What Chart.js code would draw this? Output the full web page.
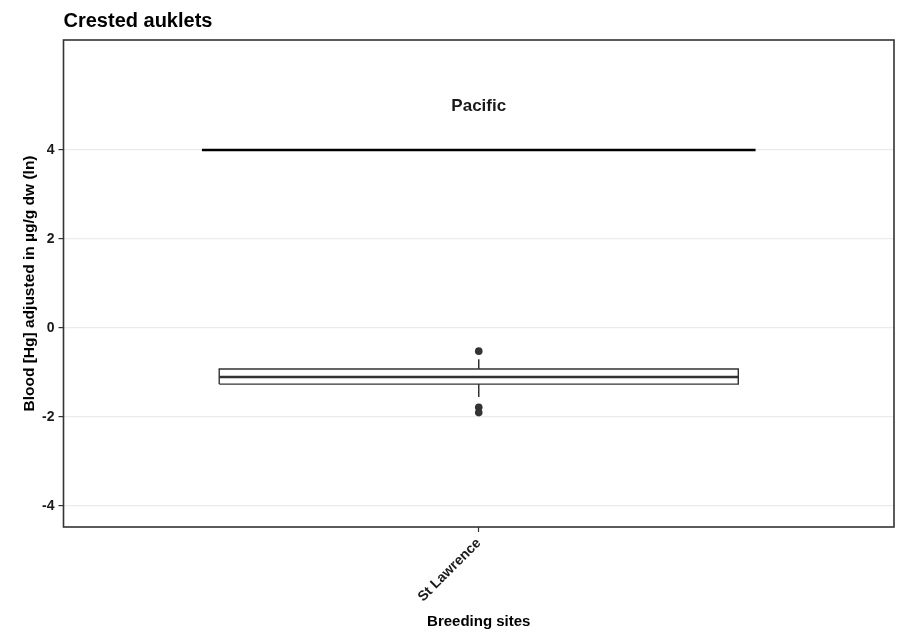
<!DOCTYPE html>
<html>
<head>
<meta charset="utf-8">
<script src="https://cdn.jsdelivr.net/npm/chart.js@4"></script>
<style>
  html, body { margin: 0; padding: 0; background: #ffffff; }
  #wrap { width: 901px; height: 633px; position: relative; }
</style>
</head>
<body>
<div id="wrap"><canvas id="c" width="901" height="633"></canvas></div>
<script>
// ---- data ----
const chartTitle = 'Crested auklets';
const categories = ['St Lawrence'];
const categoryPos = [1];
const q1 = [-1.26];
const median = [-1.10];
const q3 = [-0.92];
const whiskerLow = [-1.55];
const whiskerHigh = [-0.70];
const outliers = [[-0.52, -1.78, -1.90]];
const yTicks = [-4, -2, 0, 2, 4];
const groupLabel = 'Pacific';
const groupLineY = 4;
const groupLineFrom = 0.6;
const groupLineTo = 1.4;
const groupLabelY = 4.97;
const xTitle = 'Breeding sites';
const yTitle = 'Blood [Hg] adjusted in \u00b5g/g dw (ln)';

// ---- style ----
const FONT = "'Liberation Sans', Arial, Helvetica, sans-serif";
const DARK = '#333333';
const BOX_W = 0.75;

const datasets = [];
// group segment
datasets.push({
  type: 'line',
  data: [{x: groupLineFrom, y: groupLineY}, {x: groupLineTo, y: groupLineY}],
  borderColor: '#000000', borderWidth: 2.5, pointRadius: 0, fill: false
});
categoryPos.forEach((c, i) => {
  const l = c - BOX_W / 2, r = c + BOX_W / 2;
  // whiskers
  datasets.push({
    type: 'line',
    data: [{x: c, y: q3[i]}, {x: c, y: whiskerHigh[i]}],
    borderColor: DARK, borderWidth: 1.5, pointRadius: 0, fill: false
  });
  datasets.push({
    type: 'line',
    data: [{x: c, y: q1[i]}, {x: c, y: whiskerLow[i]}],
    borderColor: DARK, borderWidth: 1.5, pointRadius: 0, fill: false
  });
  // box
  datasets.push({
    type: 'line',
    data: [{x: l, y: q1[i]}, {x: r, y: q1[i]}, {x: r, y: q3[i]}, {x: l, y: q3[i]}, {x: l, y: q1[i]}],
    borderColor: DARK, borderWidth: 1.4, pointRadius: 0, fill: false, tension: 0
  });
  // median
  datasets.push({
    type: 'line',
    data: [{x: l, y: median[i]}, {x: r, y: median[i]}],
    borderColor: DARK, borderWidth: 2.6, pointRadius: 0, fill: false
  });
  // outliers
  datasets.push({
    type: 'scatter',
    data: outliers[i].map(v => ({x: c, y: v})),
    backgroundColor: DARK, borderColor: DARK, pointRadius: 3.8, borderWidth: 0
  });
});

const decor = {
  id: 'decor',
  afterDraw(chart) {
    const ctx = chart.ctx, a = chart.chartArea;
    const xs = chart.scales.x, ys = chart.scales.y;
    ctx.save();
    // frame
    ctx.strokeStyle = DARK;
    ctx.lineWidth = 1.6;
    ctx.strokeRect(a.left, a.top, a.right - a.left, a.bottom - a.top);
    // title
    ctx.fillStyle = '#000000';
    ctx.font = 'bold 20px ' + FONT;
    ctx.textAlign = 'left';
    ctx.textBaseline = 'alphabetic';
    ctx.fillText(chartTitle, a.left, 27);
    // group label
    ctx.font = 'bold 17px ' + FONT;
    ctx.fillStyle = '#1a1a1a';
    ctx.textAlign = 'center';
    ctx.textBaseline = 'middle';
    ctx.fillText(groupLabel, xs.getPixelForValue(1), ys.getPixelForValue(groupLabelY));
    ctx.restore();
  }
};

new Chart(document.getElementById('c'), {
  type: 'line',
  data: { datasets },
  plugins: [decor],
  options: {
    responsive: false,
    animation: false,
    events: [],
    layout: { padding: { top: 40, right: 7, left: 0, bottom: 0 } },
    plugins: { legend: { display: false }, tooltip: { enabled: false }, title: { display: false } },
    scales: {
      x: {
        type: 'linear', min: 0.4, max: 1.6,
        afterBuildTicks(s) { s.ticks = categoryPos.map(v => ({ value: v })); },
        afterFit(s) { s.height = 106; },
        grid: { drawOnChartArea: false, drawTicks: true, tickLength: 5, tickColor: DARK, tickWidth: 1.2 },
        border: { display: false },
        ticks: {
          autoSkip: false, minRotation: 45, maxRotation: 45, padding: 3,
          color: '#1a1a1a', font: { family: FONT, size: 14, weight: 'bold' },
          callback(v) { const i = categoryPos.indexOf(v); return i >= 0 ? categories[i] : ''; }
        },
        title: { display: true, text: xTitle, color: '#000000', font: { family: FONT, size: 15, weight: 'bold' }, padding: { top: 0, bottom: 2 } }
      },
      y: {
        type: 'linear', min: -4.47, max: 6.47,
        afterBuildTicks(s) { s.ticks = yTicks.map(v => ({ value: v })); },
        afterFit(s) { s.width = 63.5; },
        grid: { color: '#ebebeb', lineWidth: 1.2, drawTicks: true, tickLength: 5, tickColor: DARK, tickWidth: 1.2 },
        border: { display: false },
        ticks: { padding: 4, color: '#1a1a1a', font: { family: FONT, size: 14, weight: 'bold' } },
        title: { display: true, text: yTitle, color: '#000000', font: { family: FONT, size: 15.5, weight: 'bold' }, padding: { top: 20, bottom: 0 } }
      }
    }
  }
});
</script>
</body>
</html>
